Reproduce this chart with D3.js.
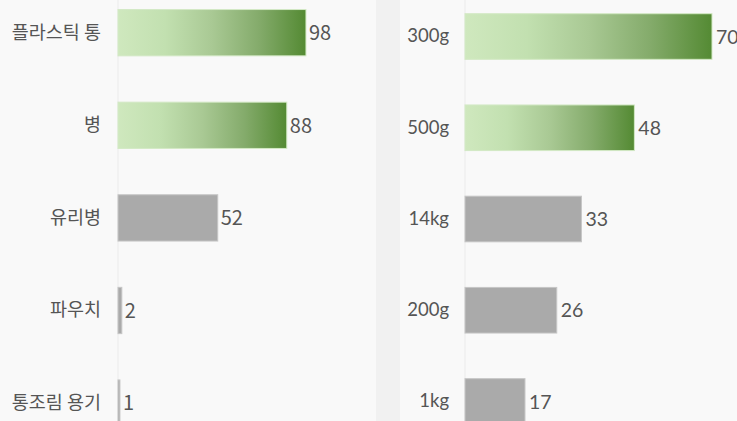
<!DOCTYPE html>
<html>
<head>
<meta charset="UTF-8">
<script src="https://d3js.org/d3.v7.min.js"></script>
<style>
	body { margin: 0; background: #f9f9f9; }
	svg { display: block; }
</style>
</head>
<body>
<div id="chart"></div>
<script>
	// left panel: 용기 종류
	let leftCats = ["플라스틱 통", "병", "유리병", "파우치", "통조림 용기"];
	let leftVals = [98, 88, 52, 2, 1];
	// right panel: 용량
	let rightCats = ["300g", "500g", "14kg", "200g", "1kg"];
	let rightVals = [70, 48, 33, 26, 17];
	let highlightCount = 2;

	let width = 737;
	let height = 421;

	let svg = d3.select("#chart").append("svg")
		.attr("width", width)
		.attr("height", height);

	// green gradient for top bars
	let defs = svg.append("defs");
	let grad = defs.append("linearGradient")
		.attr("id", "greenGrad")
		.attr("x1", "0%").attr("x2", "100%")
		.attr("y1", "0%").attr("y2", "0%");
	[
		[0, "#cfe8be"],
		[0.25, "#c2e0b0"],
		[0.5, "#a9c994"],
		[0.75, "#84ab6b"],
		[1, "#548a33"]
	].forEach(s => grad.append("stop").attr("offset", s[0]).attr("stop-color", s[1]));

	svg.append("rect")
		.attr("width", width).attr("height", height)
		.attr("fill", "#f9f9f9");

	// strip between the two panels
	svg.append("rect")
		.attr("x", 376).attr("y", 0)
		.attr("width", 24).attr("height", height)
		.attr("fill", "#f1f1f1");

	function drawPanel(opts) {
		let g = svg.append("g");

		let y = d3.scaleBand()
			.domain(opts.cats)
			.range(opts.yRange)
			.paddingInner(0.5)
			.paddingOuter(0.25);

		let x = d3.scaleLinear()
			.domain(opts.xDomain)
			.range(opts.xRange);

		// baseline
		g.append("line")
			.attr("x1", x(0)).attr("x2", x(0))
			.attr("y1", 0).attr("y2", height)
			.attr("stroke", "#ebebeb")
			.attr("stroke-width", 1);

		let data = opts.cats.map((c, i) => ({ name: c, value: opts.vals[i], hi: i < highlightCount }));

		g.selectAll(".bar")
			.data(data)
			.join("rect")
			.attr("class", "bar")
			.attr("x", x(0))
			.attr("y", d => y(d.name))
			.attr("width", d => x(d.value) - x(0))
			.attr("height", y.bandwidth())
			.attr("fill", d => d.hi ? "url(#greenGrad)" : "#aaaaaa")
			.attr("stroke", d => d.hi ? "#d3e9c5" : "#c6c6c6")
			.attr("stroke-width", 1);

		g.selectAll(".val")
			.data(data)
			.join("text")
			.attr("class", "val")
			.attr("x", d => x(d.value) + opts.valGap)
			.attr("y", d => y(d.name) + y.bandwidth() / 2)
			.attr("dy", "0.36em")
			.attr("fill", "#555")
			.style("font-family", opts.valFont)
			.style("font-size", opts.valSize)
			.text(d => d.value);

		let axis = g.append("g")
			.attr("transform", `translate(${x(0)},0)`)
			.call(d3.axisLeft(y).tickSize(0).tickPadding(opts.labelPad));
		axis.select(".domain").remove();
		axis.selectAll("text")
			.attr("fill", "#555")
			.style("font-family", opts.labelFont)
			.style("font-size", opts.labelSize);
	}

	drawPanel({
		cats: leftCats,
		vals: leftVals,
		yRange: [-13.6, 449.4],
		xDomain: [0, 100],
		xRange: [118, 309.8],
		valGap: 3,
		labelPad: 17,
		labelFont: "'Noto Sans CJK KR', sans-serif",
		labelSize: "18.5px",
		valFont: "'Noto Sans CJK KR', sans-serif",
		valSize: "20px"
	});

	drawPanel({
		cats: rightCats,
		vals: rightVals,
		yRange: [-9.1, 447.1],
		xDomain: [0, 70],
		xRange: [465, 712],
		valGap: 4,
		labelPad: 16,
		labelFont: "Lato, sans-serif",
		labelSize: "18.5px",
		valFont: "Lato, sans-serif",
		valSize: "19.5px"
	});
</script>
</body>
</html>
